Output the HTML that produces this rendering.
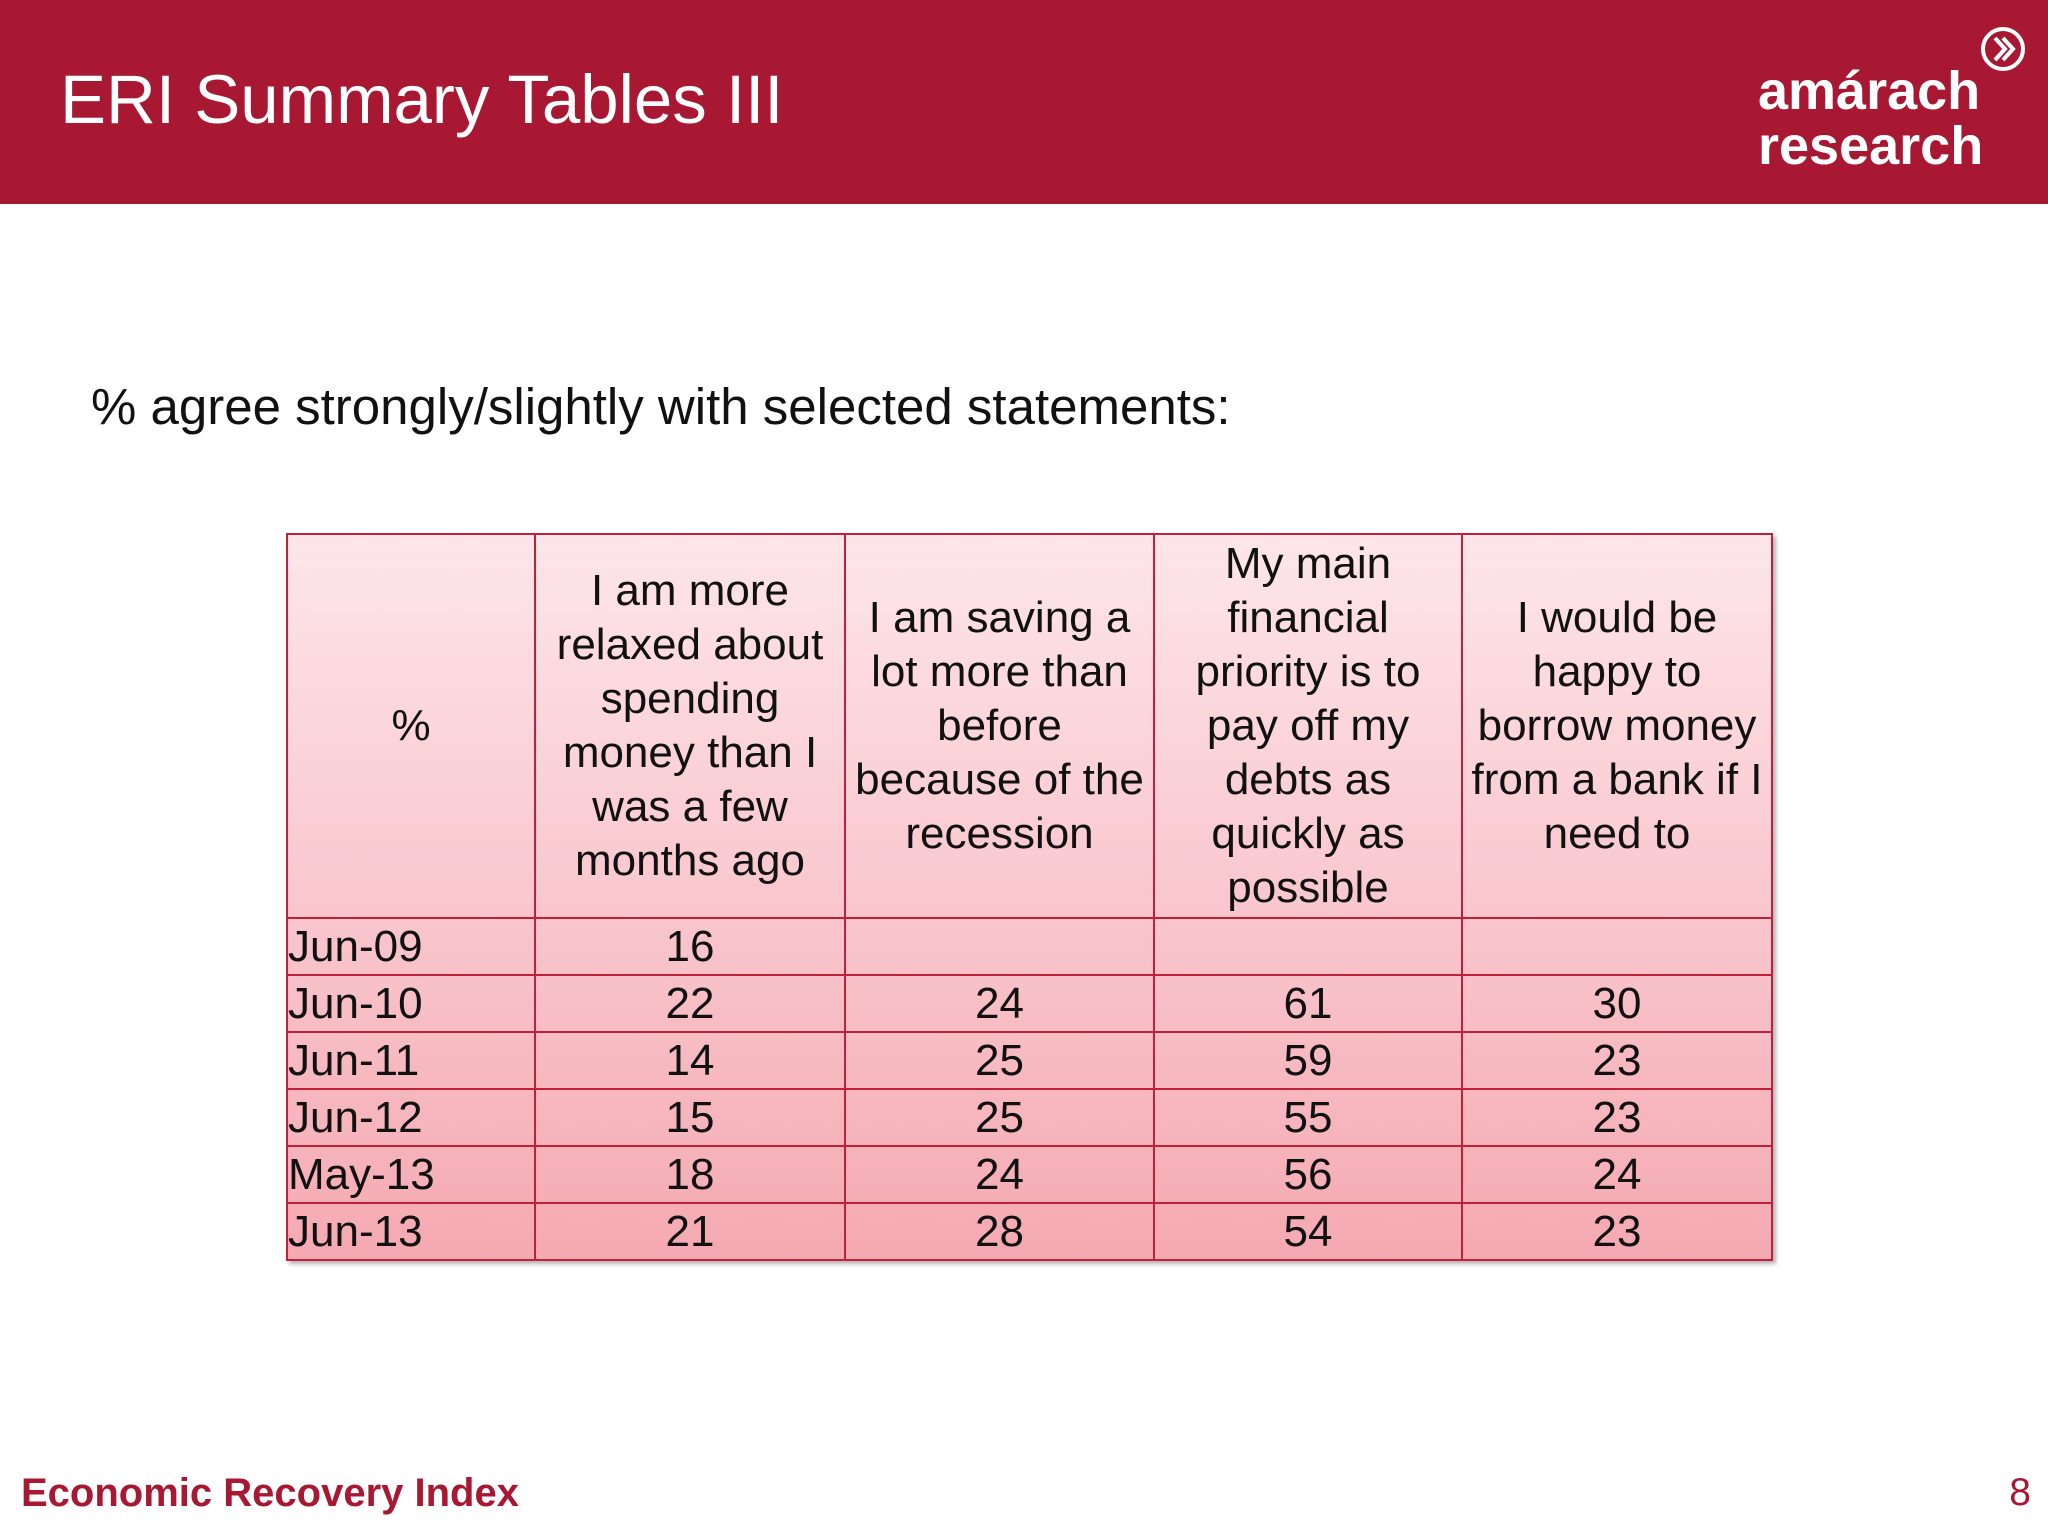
<!DOCTYPE html>
<html><head><meta charset="utf-8"><style>
body{margin:0;width:2048px;height:1536px;background:#fff;position:relative;overflow:hidden;font-family:"Liberation Sans",sans-serif}
#hdr{position:absolute;left:0;top:0;width:2048px;height:204px;background:#a81832}
#title{position:absolute;left:60px;top:60px;color:#fff;font-size:69px}
#logo{position:absolute;left:1758px;top:64px;color:#fff;font-size:54px;font-weight:bold;line-height:55px}
#sub{position:absolute;left:91px;top:377px;font-size:51px;color:#111}
table{position:absolute;left:286px;top:533px;border-collapse:collapse;background:linear-gradient(#fde6ea,#f5a9b2);box-shadow:3px 3px 4px rgba(0,0,0,.3)}
td{border:2px solid #c0203a;font-size:44px;color:#111;text-align:center;padding:0;line-height:54px;white-space:nowrap}
td.l{text-align:left}
#foot{position:absolute;left:21px;top:1471px;color:#a81832;font-size:40px;font-weight:bold}
#pg{position:absolute;right:17px;top:1471px;color:#a81832;font-size:39px}
</style></head><body>
<div id="hdr"></div>
<div id="title">ERI Summary Tables III</div>
<div id="logo">amárach<br>research</div>
<svg style="position:absolute;left:1980px;top:26px" width="46" height="46"><circle cx="23" cy="23" r="20" fill="none" stroke="#fff" stroke-width="4"/><path d="M15 12 L25 23 L15 34 M23 12 L33 23 L23 34" fill="none" stroke="#fff" stroke-width="4"/></svg>
<div id="sub">% agree strongly/slightly with selected statements:</div>
<table id="tbl">
<colgroup><col style="width:248px"><col style="width:310px"><col style="width:309px"><col style="width:308px"><col style="width:310px"></colgroup>
<tr style="height:384px">
<td>%</td>
<td>I am more<br>relaxed about<br>spending<br>money than I<br>was a few<br>months ago</td>
<td>I am saving a<br>lot more than<br>before<br>because of the<br>recession</td>
<td>My main<br>financial<br>priority is to<br>pay off my<br>debts as<br>quickly as<br>possible</td>
<td>I would be<br>happy to<br>borrow money<br>from a bank if I<br>need to</td>
</tr>
</table>
<div id="foot">Economic Recovery Index</div>
<div id="pg">8</div>
<script>
const periods=["Jun-09","Jun-10","Jun-11","Jun-12","May-13","Jun-13"];
const relaxed=[16,22,14,15,18,21];
const saving=[null,24,25,25,24,28];
const debts=[null,61,59,55,56,54];
const borrow=[null,30,23,23,24,23];
const tbl=document.getElementById('tbl');
periods.forEach((p,i)=>{
 const tr=document.createElement('tr');tr.style.height='57px';
 
 
 const cells=[p,relaxed[i],saving[i],debts[i],borrow[i]];
 cells.forEach((v,j)=>{
  const td=document.createElement('td');
  if(j===0)td.className='l';
  td.textContent=v==null?'':v;
  
  
  tr.appendChild(td);
 });
 tbl.appendChild(tr);
});
</script>
</body></html>
